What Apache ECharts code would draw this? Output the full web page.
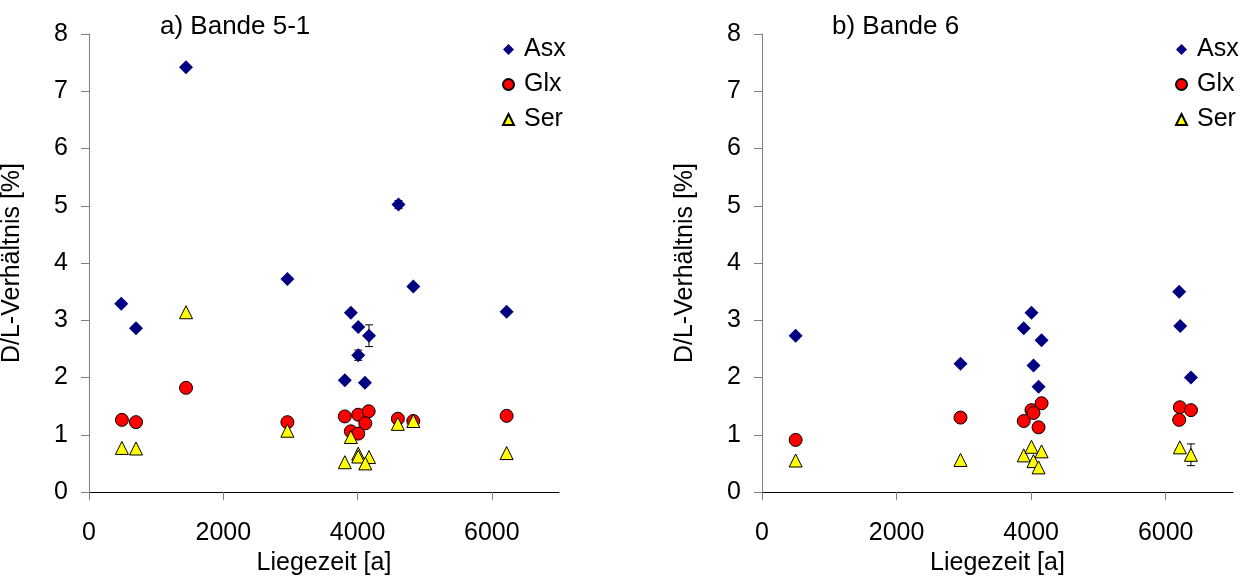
<!DOCTYPE html>
<html>
<head>
<meta charset="utf-8">
<script src="https://cdn.jsdelivr.net/npm/echarts@6/dist/echarts.min.js"></script>
<style>html,body{margin:0;padding:0;background:#fff}#c{width:1247px;height:576px}</style>
</head>
<body>
<div id="c"></div>
<script>
// ---- data ----
const titles = ['a) Bande 5-1', 'b) Bande 6'];
const seriesNames = ['Asx', 'Glx', 'Ser'];
const xTicks = [0, 2000, 4000, 6000];
const xAxisName = 'Liegezeit [a]';
const yAxisName = 'D/L-Verhältnis [%]';

// panel a
const aAsx = [[480,3.29],[700,2.86],[1445,7.42],[2955,3.72],[3900,3.13],[4010,2.88],[4170,2.73],[4010,2.39],[3810,1.95],[4110,1.91],[4610,5.02],[4830,3.59],[6220,3.15]];
const aGlx = [[490,1.26],[700,1.22],[1445,1.82],[2955,1.22],[3810,1.32],[4010,1.35],[4165,1.41],[4115,1.20],[3900,1.06],[4010,1.02],[4600,1.28],[4830,1.24],[6220,1.33]];
const aSer = [[490,0.77],[700,0.76],[1445,3.14],[2955,1.07],[3900,0.96],[4600,1.19],[4830,1.24],[3810,0.52],[4010,0.67],[4010,0.62],[4170,0.61],[4115,0.50],[6220,0.68]];
// error bars panel a: [x, y, halfWidth]
const aErr = [[480,3.29,0.05],[4170,2.73,0.19],[4010,2.39,0.09],[4610,5.02,0.07]];

// panel b
const bAsx = [[500,2.73],[2950,2.24],[4005,3.13],[3890,2.86],[4155,2.65],[4035,2.21],[4110,1.84],[6200,3.50],[6215,2.90],[6375,2.00]];
const bGlx = [[500,0.91],[2950,1.30],[3890,1.24],[4005,1.43],[4035,1.38],[4155,1.55],[4110,1.13],[6210,1.48],[6375,1.43],[6200,1.26]];
const bSer = [[500,0.55],[2950,0.56],[3890,0.64],[4005,0.79],[4155,0.71],[4035,0.54],[4110,0.43],[6210,0.78],[6375,0.65]];
const bErr = [[6375,0.65,0.19]];

// ---- chart ----
const FONT = 'Liberation Sans';
const FS = 25;
const chart = echarts.init(document.getElementById('c'), null, {renderer: 'canvas'});

const styles = {
  Asx: {symbol: 'diamond', symbolSize: 14, itemStyle: {color: '#000080', borderWidth: 0, opacity: 1}},
  Glx: {symbol: 'circle', symbolSize: 13, itemStyle: {color: '#FF0000', borderColor: '#000', borderWidth: 1, opacity: 1}},
  Ser: {symbol: 'triangle', symbolSize: 13, itemStyle: {color: '#FFFF00', borderColor: '#000', borderWidth: 1, opacity: 1}}
};

function xAxis(gi) {
  return {
    gridIndex: gi, type: 'value', min: 0, max: 7000, interval: 2000,
    name: xAxisName, nameLocation: 'middle', nameGap: 54,
    nameTextStyle: {fontFamily: FONT, fontSize: FS, color: '#000'},
    axisLine: {show: true, onZero: false, lineStyle: {color: '#000', width: 1}},
    axisTick: {show: true, inside: false, length: 8, customValues: xTicks, lineStyle: {color: '#808080'}},
    axisLabel: {customValues: xTicks, formatter: v => String(v), fontFamily: FONT, fontSize: FS, color: '#000', margin: 29},
    splitLine: {show: false}
  };
}
function yAxis(gi) {
  return {
    gridIndex: gi, type: 'value', min: 0, max: 8, interval: 1,
    name: yAxisName, nameLocation: 'middle', nameGap: 64, nameRotate: 90,
    nameTextStyle: {fontFamily: FONT, fontSize: FS, color: '#000'},
    axisLine: {show: true, onZero: false, lineStyle: {color: '#808080', width: 1}},
    axisTick: {show: true, inside: false, length: 8, lineStyle: {color: '#808080'}},
    axisLabel: {formatter: v => String(v), fontFamily: FONT, fontSize: FS, color: '#000', margin: 21},
    splitLine: {show: false}
  };
}

function scatter(name, data, gi) {
  return Object.assign({
    type: 'scatter', name: name, data: data,
    xAxisIndex: gi, yAxisIndex: gi, z: 3
  }, JSON.parse(JSON.stringify(styles[name])));
}

function errSeries(data, gi) {
  return {
    type: 'custom', xAxisIndex: gi, yAxisIndex: gi, z: 2, silent: true,
    data: data,
    renderItem: function (params, api) {
      const x = api.value(0), y = api.value(1), d = api.value(2);
      const top = api.coord([x, y + d]);
      const bot = api.coord([x, y - d]);
      const cap = 4;
      return {
        type: 'group',
        children: [
          {type: 'line', shape: {x1: top[0], y1: top[1], x2: bot[0], y2: bot[1]}, style: {stroke: '#000', lineWidth: 1}},
          {type: 'line', shape: {x1: top[0]-cap, y1: top[1], x2: top[0]+cap, y2: top[1]}, style: {stroke: '#000', lineWidth: 1}},
          {type: 'line', shape: {x1: bot[0]-cap, y1: bot[1], x2: bot[0]+cap, y2: bot[1]}, style: {stroke: '#000', lineWidth: 1}}
        ]
      };
    }
  };
}

function legend(left) {
  return {
    left: left, top: 32, orient: 'vertical', itemGap: 10,
    itemWidth: 11, itemHeight: 11,
    data: seriesNames.map(n => ({name: n, icon: styles[n].symbol})),
    textStyle: {fontFamily: FONT, fontSize: FS, color: '#000', padding: [0,0,0,5]},
    selectedMode: false
  };
}

chart.setOption({
  animation: false,
  backgroundColor: '#fff',
  title: [
    {text: titles[0], left: 155, top: 9, textStyle: {fontFamily: FONT, fontSize: 26, fontWeight: 'normal', color: '#000'}},
    {text: titles[1], left: 827, top: 9, textStyle: {fontFamily: FONT, fontSize: 26, fontWeight: 'normal', color: '#000'}}
  ],
  legend: [legend(497), legend(1170)],
  grid: [
    {left: 89, right: 688, top: 34, bottom: 84, outerBoundsMode: 'none', containLabel: false},
    {left: 762, right: 14, top: 34, bottom: 84, outerBoundsMode: 'none', containLabel: false}
  ],
  xAxis: [xAxis(0), xAxis(1)],
  yAxis: [yAxis(0), yAxis(1)],
  series: [
    errSeries(aErr, 0),
    scatter('Asx', aAsx, 0),
    scatter('Glx', aGlx, 0),
    scatter('Ser', aSer, 0),
    errSeries(bErr, 1),
    scatter('Asx', bAsx, 1),
    scatter('Glx', bGlx, 1),
    scatter('Ser', bSer, 1)
  ]
});
</script>
</body>
</html>
